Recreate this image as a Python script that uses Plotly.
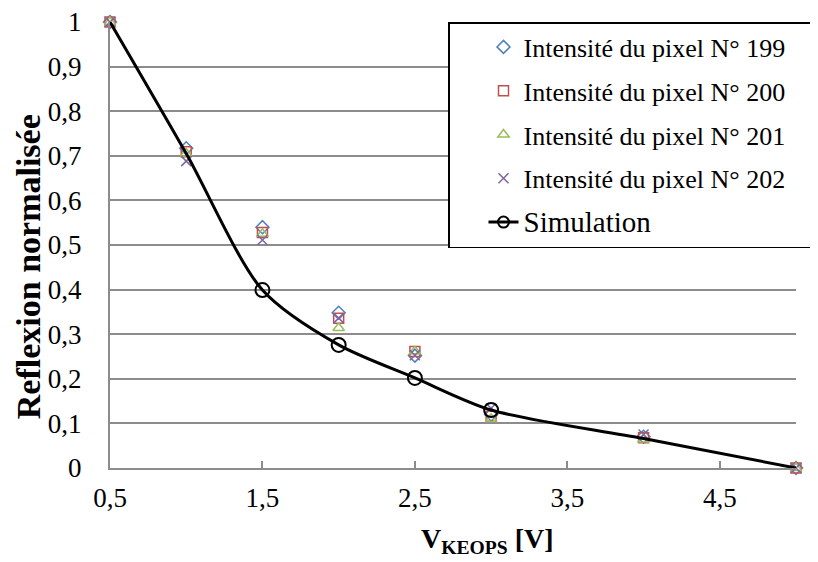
import plotly.graph_objects as go

SERIF = "Liberation Serif"
PAD = "\u00a0" * 4  # right padding inside the legend box

# tension values (V)
v_keops = [0.5, 1.0, 1.5, 2.0, 2.5, 3.0, 4.0, 5.0]

# normalised reflexion per pixel
pix_199 = [1.0, 0.717, 0.540, 0.348, 0.252, 0.120, 0.070, 0.0]
pix_200 = [1.0, 0.709, 0.528, 0.336, 0.261, 0.116, 0.068, 0.0]
pix_201 = [1.0, 0.705, 0.525, 0.314, 0.262, 0.110, 0.064, 0.0]
pix_202 = [1.0, 0.688, 0.511, 0.336, 0.253, 0.134, 0.075, 0.0]

# simulation curve (circles only visible on the middle points)
sim = [1.0, 0.705, 0.399, 0.276, 0.202, 0.130, 0.066, 0.0]
sim_marked = slice(2, 6)

series = [
    ("Intensité du pixel N° 199", pix_199, "diamond-open", "#4F81BD"),
    ("Intensité du pixel N° 200", pix_200, "square-open", "#C0504D"),
    ("Intensité du pixel N° 201", pix_201, "triangle-up-open", "#9BBB59"),
    ("Intensité du pixel N° 202", pix_202, "x-thin-open", "#8064A2"),
]

fig = go.Figure()

for i, (name, vals, sym, col) in enumerate(series):
    fig.add_trace(go.Scatter(
        x=v_keops, y=vals, mode="markers", name=name + PAD,
        legendgroup=f"g{i}", cliponaxis=False,
        marker=dict(symbol=sym, size=10, color=col,
                    line=dict(color=col, width=1.5)),
    ))

# simulation line
fig.add_trace(go.Scatter(
    x=v_keops, y=sim, mode="lines", showlegend=False,
    line=dict(color="black", width=3, shape="spline", smoothing=0.8),
    hoverinfo="skip",
))
# simulation circles
fig.add_trace(go.Scatter(
    x=v_keops[sim_marked], y=sim[sim_marked], mode="markers", showlegend=False,
    marker=dict(symbol="circle-open", size=14, color="black",
                line=dict(color="black", width=2)),
))
# legend entry for simulation
fig.add_trace(go.Scatter(
    x=[None], y=[None], mode="lines+markers",
    name='<span style="font-size:29px">Simulation</span>',
    legendgroup="sim",
    line=dict(color="black", width=3),
    marker=dict(symbol="circle-open", size=11, color="black",
                line=dict(color="black", width=2)),
))

# page body has an 8px margin, figure is sized to fill the rest
fig.update_layout(
    width=810, height=554,
    margin=dict(l=102, r=22, t=14, b=94, autoexpand=False),
    plot_bgcolor="white", paper_bgcolor="white",
    separators=", ",
    font=dict(family=SERIF, size=24, color="black"),
    showlegend=True,
    legend=dict(
        xref="container", x=1.0, xanchor="right",
        y=1.0, yanchor="top",
        bgcolor="white", bordercolor="black", borderwidth=1.5,
        font=dict(family=SERIF, size=26, color="black"),
        tracegroupgap=7, indentation=34,
    ),
    annotations=[
        dict(text="<b>V<sub>KEOPS</sub> [V]</b>", xref="paper", yref="paper",
             x=0.55, y=-0.163, xanchor="center", yanchor="middle",
             showarrow=False, font=dict(family=SERIF, size=28, color="black")),
        dict(text="<b>Reflexion normalisée</b>", xref="paper", yref="paper",
             x=-0.119, y=0.451, xanchor="center", yanchor="middle", textangle=-90,
             showarrow=False, font=dict(family=SERIF, size=34, color="black")),
    ],
)

fig.update_xaxes(
    range=[0.5, 5.0], tick0=0.5, dtick=1, tickformat=".1f",
    showgrid=False, zeroline=False, automargin=False,
    showline=True, linecolor="#8c8c8c", linewidth=2,
    ticks="inside", ticklen=7, tickcolor="#8c8c8c", tickwidth=2,
    tickfont=dict(family=SERIF, size=27, color="black"), ticklabelstandoff=5,
)

fig.update_yaxes(
    range=[0, 1.0], dtick=0.1, tickformat=".1~f",
    showgrid=True, gridcolor="#8c8c8c", gridwidth=1.5,
    zeroline=False, automargin=False,
    showline=True, linecolor="#8c8c8c", linewidth=2,
    ticks="", tickfont=dict(family=SERIF, size=27, color="black"),
    ticklabelstandoff=21, ticklabeloverflow="allow",
)

fig.write_html("out.html")
